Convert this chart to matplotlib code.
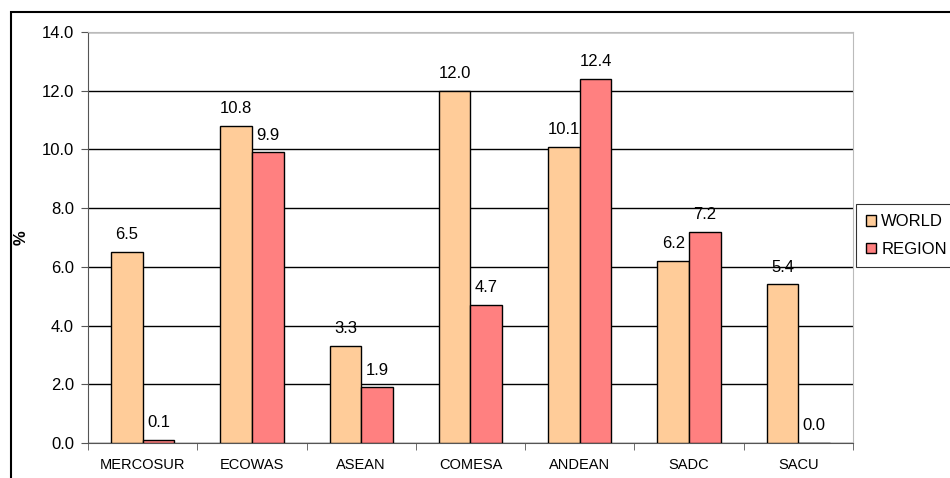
import numpy as np
import matplotlib.pyplot as plt
from matplotlib.patches import Rectangle

plt.rcParams['font.family'] = ['Liberation Sans', 'DejaVu Sans']

groups = ['MERCOSUR', 'ECOWAS', 'ASEAN', 'COMESA', 'ANDEAN', 'SADC', 'SACU']
world = [6.5, 10.8, 3.3, 12.0, 10.1, 6.2, 5.4]
region = [0.1, 9.9, 1.9, 4.7, 12.4, 7.2, 0.0]

fig = plt.figure(figsize=(9.5, 4.78), dpi=100)
ax = fig.add_axes([0.0926, 0.0732, 0.8053, 0.8598])

# outer chart border (right and bottom edges run off the picture)
fig.patches.append(Rectangle((0.0115, -0.05), 1.1, 1.025, transform=fig.transFigure,
                             fill=False, edgecolor='black', linewidth=1.5, zorder=0))

x = np.arange(len(groups))
w = 0.29
b1 = ax.bar(x - w / 2, world, w, color='#FFCC99', edgecolor='black', linewidth=1, label='WORLD', zorder=3)
b2 = ax.bar(x + w / 2, region, w, color='#FF8080', edgecolor='black', linewidth=1, label='REGION', zorder=3)

for bars, vals in ((b1, world), (b2, region)):
    for bar, v in zip(bars, vals):
        ax.annotate(f'{v:.1f}', (bar.get_x() + bar.get_width() / 2, v),
                    xytext=(0, 7), textcoords='offset points',
                    ha='center', va='bottom', fontsize=12)

ax.set_xlim(-0.5, len(groups) - 0.5)
ax.set_ylim(0, 14)
ax.set_yticks(np.arange(0, 14.1, 2))
ax.set_yticklabels([f'{t:.1f}' for t in np.arange(0, 14.1, 2)], fontsize=12)
ax.set_xticks(x)
ax.set_xticklabels(groups, fontsize=10.5)
ax.set_xticks(np.arange(-0.5, len(groups), 1), minor=True)
ax.tick_params(axis='x', which='major', length=0, pad=11)
ax.tick_params(axis='x', which='minor', length=5, color='#555555')
ax.tick_params(axis='y', length=5, color='#555555', pad=5)
ax.yaxis.grid(True, color='black', linewidth=1, zorder=0)
ax.set_axisbelow(True)

for s in ('top', 'right'):
    ax.spines[s].set_color('#BBBBBB')
for s in ('left', 'bottom'):
    ax.spines[s].set_color('#555555')

ax.set_ylabel('%', fontsize=12, fontweight='bold')
ax.yaxis.set_label_coords(-0.078, 0.5)

leg = ax.legend(loc='center left', bbox_to_anchor=(1.0, 0.505), fontsize=12,
                frameon=True, fancybox=False, edgecolor='black',
                handlelength=0.6, handleheight=0.6, handletextpad=0.3,
                borderpad=0.6, labelspacing=0.75, borderaxespad=0.2)
leg.get_frame().set_linewidth(0.8)

plt.savefig('out.png', dpi=100)
